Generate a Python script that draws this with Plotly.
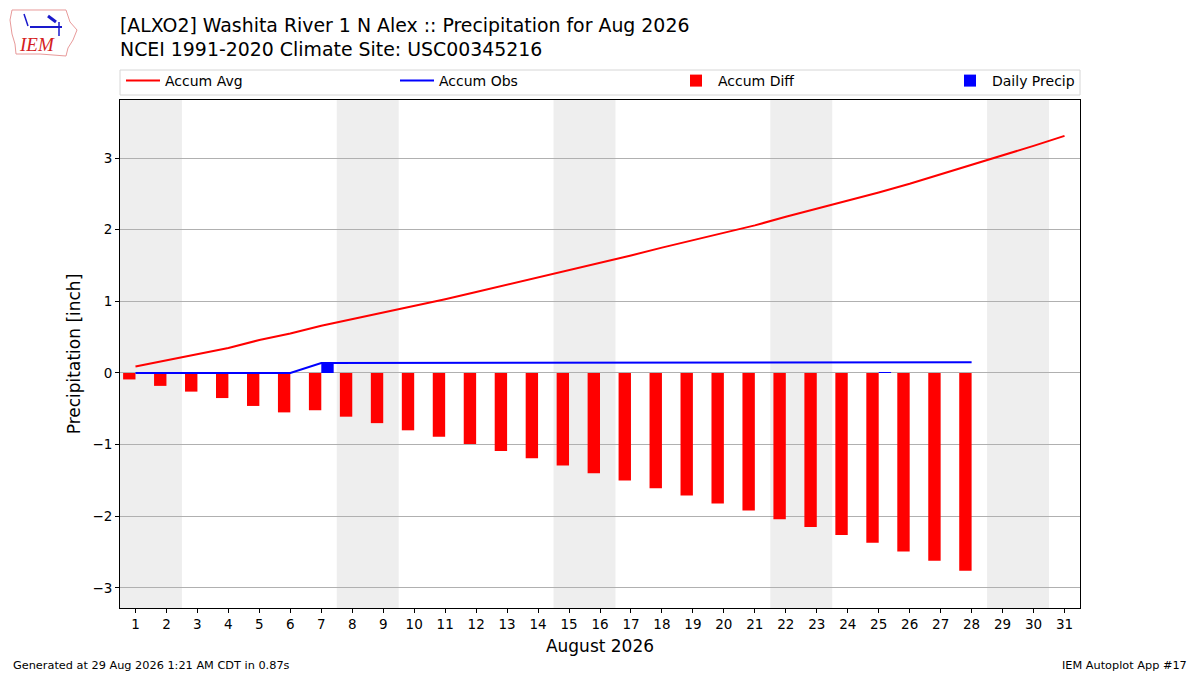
import datetime
import plotly.graph_objects as go

# ---------------- data ----------------
days = list(range(1, 32))
tick_labels = [str(d) for d in days]
accum_avg = [0.09, 0.18, 0.26, 0.35, 0.46, 0.55, 0.66, 0.75, 0.84, 0.94,
             1.03, 1.13, 1.23, 1.33, 1.43, 1.54, 1.64, 1.75, 1.85, 1.96,
             2.06, 2.18, 2.29, 2.40, 2.52, 2.64, 2.77, 2.91, 3.04, 3.17, 3.31]
obs_days = list(range(1, 29))
accum_obs = [0.0, 0.0, 0.0, 0.0, 0.0, 0.0, 0.14, 0.14, 0.14, 0.14,
             0.14, 0.14, 0.14, 0.14, 0.14, 0.14, 0.14, 0.14, 0.14, 0.14,
             0.14, 0.14, 0.14, 0.14, 0.15, 0.15, 0.15, 0.15]
accum_diff = [-0.09, -0.18, -0.26, -0.35, -0.46, -0.55, -0.52, -0.61, -0.70, -0.80,
              -0.89, -0.99, -1.09, -1.19, -1.29, -1.40, -1.50, -1.61, -1.71, -1.82,
              -1.92, -2.04, -2.15, -2.26, -2.37, -2.49, -2.62, -2.76]
daily_precip = [0.0, 0.0, 0.0, 0.0, 0.0, 0.0, 0.14, 0.0, 0.0, 0.0,
                0.0, 0.0, 0.0, 0.0, 0.0, 0.0, 0.0, 0.0, 0.0, 0.0,
                0.0, 0.0, 0.0, 0.0, 0.01, 0.0, 0.0, 0.0]
year, month = 2026, 8

title_line1 = "[ALXO2] Washita River 1 N Alex :: Precipitation for Aug 2026"
title_line2 = "NCEI 1991-2020 Climate Site: USC00345216"
footer_left = "Generated at 29 Aug 2026 1:21 AM CDT in 0.87s"
footer_right = "IEM Autoplot App #17"

# ---------------- figure ----------------
W, H = 1200, 675
L, R, T, B = 120, 120, 100, 67
PW, PH = W - L - R, H - T - B


def px(x):
    return (x - L) / PW


def py(y):
    return (H - B - y) / PH


FONT = "DejaVu Sans"
fig = go.Figure()

fig.add_trace(go.Scatter(x=days, y=accum_avg, mode="lines", name="Accum Avg",
                         line=dict(color="red", width=2), legend="legend"))
fig.add_trace(go.Scatter(x=obs_days, y=accum_obs, mode="lines", name="Accum Obs",
                         line=dict(color="blue", width=2), legend="legend2"))
fig.add_trace(go.Bar(x=obs_days, y=accum_diff, name="Accum Diff", width=0.4, offset=-0.4,
                     marker=dict(color="red", line=dict(width=0)), legend="legend3"))
fig.add_trace(go.Bar(x=obs_days, y=daily_precip, name="Daily Precip", width=0.4, offset=0,
                     marker=dict(color="blue", line=dict(width=0)), legend="legend4"))

shapes = []
# weekend shading
for d in days:
    if datetime.date(year, month, d).weekday() == 5:
        shapes.append(dict(type="rect", xref="x", yref="paper", x0=d - 0.5, x1=d + 1.5,
                           y0=0, y1=1, fillcolor="#eeeeee", line=dict(width=0),
                           layer="below"))
# legend frame
shapes.append(dict(type="rect", xref="paper", yref="paper", x0=0, x1=1,
                   y0=py(95), y1=py(70), line=dict(color="#d6d6d6", width=1),
                   fillcolor="rgba(255,255,255,0.8)", layer="below"))

# logo approximation (IEM)
iowa = [(12, 10), (66, 10), (70, 22), (77, 30), (73, 40), (68, 48), (66, 56),
        (40, 54), (16, 54), (15, 44), (12, 34), (10, 20)]
path = "M " + " L ".join(f"{px(a):.5f},{py(b):.5f}" for a, b in iowa) + " Z"
shapes.append(dict(type="path", xref="paper", yref="paper", path=path,
                   line=dict(color="#e89a9a", width=1)))
shapes.append(dict(type="line", xref="paper", yref="paper", x0=px(30), x1=px(62),
                   y0=py(27), y1=py(27), line=dict(color="#1a1acc", width=2)))
shapes.append(dict(type="line", xref="paper", yref="paper", x0=px(24), x1=px(28),
                   y0=py(14), y1=py(26), line=dict(color="#1a1acc", width=1.5)))
shapes.append(dict(type="line", xref="paper", yref="paper", x0=px(48), x1=px(56),
                   y0=py(16), y1=py(22), line=dict(color="#1a1acc", width=3)))
shapes.append(dict(type="line", xref="paper", yref="paper", x0=px(59), x1=px(59),
                   y0=py(22), y1=py(36), line=dict(color="#1a1acc", width=1.5)))

annotations = [
    dict(text="<i>IEM</i>", xref="paper", yref="paper", x=px(37), y=py(45), showarrow=False,
         font=dict(family="Liberation Serif", size=19, color="#d42020"),
         xanchor="center", yanchor="middle"),
    dict(text=title_line1, xref="paper", yref="paper", x=px(118), y=py(25),
         showarrow=False, xanchor="left", yanchor="middle",
         font=dict(family=FONT, size=18.9, color="black")),
    dict(text=title_line2, xref="paper", yref="paper", x=px(118), y=py(49),
         showarrow=False, xanchor="left", yanchor="middle",
         font=dict(family=FONT, size=18.9, color="black")),
    dict(text=footer_left, xref="paper", yref="paper", x=px(11), y=py(665),
         showarrow=False, xanchor="left", yanchor="middle",
         font=dict(family=FONT, size=11.3, color="black")),
    dict(text=footer_right, xref="paper", yref="paper", x=px(1189), y=py(665),
         showarrow=False, xanchor="right", yanchor="middle",
         font=dict(family=FONT, size=11.3, color="black")),
]

legend_common = dict(orientation="h", xanchor="left", y=py(81), yanchor="middle",
                     bgcolor="rgba(0,0,0,0)", borderwidth=0, itemwidth=34,
                     font=dict(family=FONT, size=14, color="black"))

fig.update_layout(
    width=W, height=H,
    margin=dict(l=L, r=R, t=T, b=B),
    paper_bgcolor="white", plot_bgcolor="white",
    font=dict(family=FONT, size=13, color="black"),
    barmode="overlay",
    showlegend=True,
    legend=dict(x=px(121), **legend_common),
    legend2=dict(x=px(395), **legend_common),
    legend3=dict(x=px(674), **legend_common),
    legend4=dict(x=px(948), **legend_common),
    shapes=shapes,
    annotations=annotations,
    xaxis=dict(range=[0.5, 31.5], tickmode="array", tickvals=days, ticktext=tick_labels,
               showgrid=False, zeroline=False, showline=True, linecolor="black",
               linewidth=1, mirror=True, ticks="outside", ticklen=4, tickcolor="black",
               title=dict(text="August 2026", font=dict(family=FONT, size=17), standoff=8),
               tickfont=dict(family=FONT, size=13.5)),
    yaxis=dict(range=[-3.28, 3.81], tickmode="array", tickvals=[-3, -2, -1, 0, 1, 2, 3],
               ticktext=["\u22123", "\u22122", "\u22121", "0", "1", "2", "3"],
               showgrid=True, gridcolor="#b0b0b0", gridwidth=1, zeroline=False,
               showline=True, linecolor="black", linewidth=1, mirror=True,
               ticks="outside", ticklen=4, tickcolor="black",
               title=dict(text="Precipitation [inch]", font=dict(family=FONT, size=17),
                          standoff=7),
               tickfont=dict(family=FONT, size=13.5)),
)

fig.write_html("out.html", config={"displayModeBar": False},
               post_script="document.body.style.margin='0px';document.body.style.overflow='hidden';")
